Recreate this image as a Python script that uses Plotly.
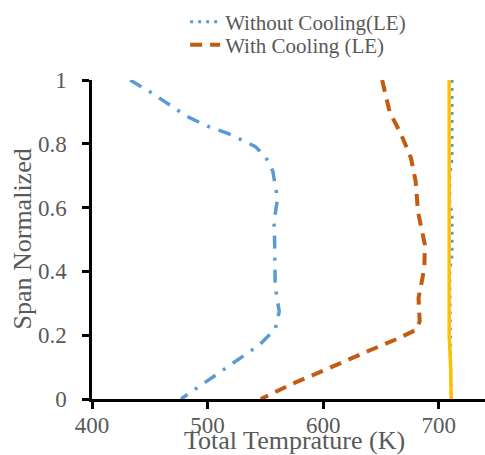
import plotly.graph_objects as go

# Without cooling (dash-dot, not in legend)
span_a = [1.0, 0.961, 0.886, 0.855, 0.832, 0.792, 0.760, 0.713, 0.628, 0.556, 0.491, 0.42, 0.352, 0.274, 0.219, 0.17, 0.13, 0.051, 0.0]
temp_a = [433, 451, 482, 500, 518, 541, 550, 556.5, 560.5, 557.5, 558, 558, 558.5, 562, 558.5, 545, 529, 498, 477]

# With Cooling (LE)
span_wc = [1.0, 0.90, 0.829, 0.755, 0.682, 0.588, 0.483, 0.41, 0.316, 0.243, 0.217, 0.19, 0.152, 0.117, 0.084, 0.049, 0.0]
temp_wc = [651, 657.5, 667.5, 676, 680, 682, 688, 687.5, 682.5, 683.5, 680.5, 665, 640, 618.5, 597, 574, 546]

# Without Cooling (LE)
span_nc = [1.0, 0.95, 0.75, 0.70, 0.62, 0.58, 0.45, 0.40, 0.0]
temp_nc = [711.5, 711.5, 711.5, 709.5, 709.5, 711.5, 711.5, 709.5, 710.5]

# Yellow series (not in legend)
span_y = [1.0, 0.9, 0.7, 0.5, 0.3, 0.2, 0.1, 0.0]
temp_y = [709.0, 709.0, 708.9, 708.8, 708.8, 709.0, 710.3, 710.8]

x_ticks = [400, 500, 600, 700]
y_ticks = [0, 0.2, 0.4, 0.6, 0.8, 1]
y_ticktext = ["0", "0.2", "0.4", "0.6", "0.8", "1"]

GRAY = "#595959"
FONT = "Liberation Serif"

fig = go.Figure()
fig.add_trace(go.Scatter(x=temp_nc, y=span_nc, mode="lines", name="Without Cooling(LE)",
                         legend="legend",
                         line=dict(color="#5B9BD5", width=3, dash="3px,5px")))
fig.add_trace(go.Scatter(x=temp_wc, y=span_wc, mode="lines", name="With Cooling (LE)",
                         legend="legend2",
                         line=dict(color="#C55A11", width=4, dash="12px,8px")))
fig.add_trace(go.Scatter(x=temp_a, y=span_a, mode="lines", name="Without Cooling",
                         showlegend=False,
                         line=dict(color="#5B9BD5", width=3.5, dash="13px,9px,3px,9px")))
fig.add_trace(go.Scatter(x=temp_y, y=span_y, mode="lines", name="Reference",
                         showlegend=False,
                         line=dict(color="#FFC000", width=3.5)))

axis_common = dict(showgrid=False, zeroline=False, automargin=False,
                   tickfont=dict(family=FONT, size=23, color=GRAY))
legend_common = dict(x=0.237, xanchor="left", yanchor="middle",
                     font=dict(family=FONT, size=21, color=GRAY),
                     bgcolor="rgba(0,0,0,0)")

fig.update_layout(
    width=485, height=455,
    margin=dict(l=92, r=0, t=80, b=56),
    paper_bgcolor="white", plot_bgcolor="white",
    font=dict(family=FONT, color=GRAY),
    showlegend=True,
    legend=dict(y=1 + (80 - 22) / 319, **legend_common),
    legend2=dict(y=1 + (80 - 45) / 319, **legend_common),
    xaxis=dict(range=[400, 740], tickvals=x_ticks, showline=True, linecolor="black", linewidth=2.5,
               ticks="outside", ticklen=7, tickwidth=2.5, tickcolor="black",
               ticklabelstandoff=-3, **axis_common),
    yaxis=dict(range=[0, 1], tickvals=y_ticks, ticktext=y_ticktext,
               showline=True, linecolor="black", linewidth=2.5,
               ticks="outside", ticklen=7, tickwidth=2.5, tickcolor="black",
               ticklabelstandoff=11, **axis_common),
    xaxis2=dict(overlaying="x", anchor="y", side="bottom", range=[400, 740], tickvals=x_ticks,
                ticks="inside", ticklen=7, tickwidth=2.5, tickcolor="black",
                showticklabels=False, showline=False, showgrid=False, zeroline=False),
    yaxis2=dict(overlaying="y", anchor="x", side="left", range=[0, 1], tickvals=y_ticks,
                ticks="inside", ticklen=7, tickwidth=2.5, tickcolor="black",
                showticklabels=False, showline=False, showgrid=False, zeroline=False),
    annotations=[
        dict(text="Total Temprature (K)", xref="paper", yref="paper", x=0.5165, y=-0.13,
             xanchor="center", yanchor="middle", showarrow=False,
             font=dict(family=FONT, size=26, color=GRAY)),
        dict(text="Span Normalized", xref="paper", yref="paper", x=-0.178, y=0.5,
             xanchor="center", yanchor="middle", showarrow=False, textangle=-90,
             font=dict(family=FONT, size=26, color=GRAY)),
    ],
)

fig.write_html("out.html", config={"displayModeBar": False},
               post_script="document.body.style.margin='0';document.body.style.overflow='hidden';")
